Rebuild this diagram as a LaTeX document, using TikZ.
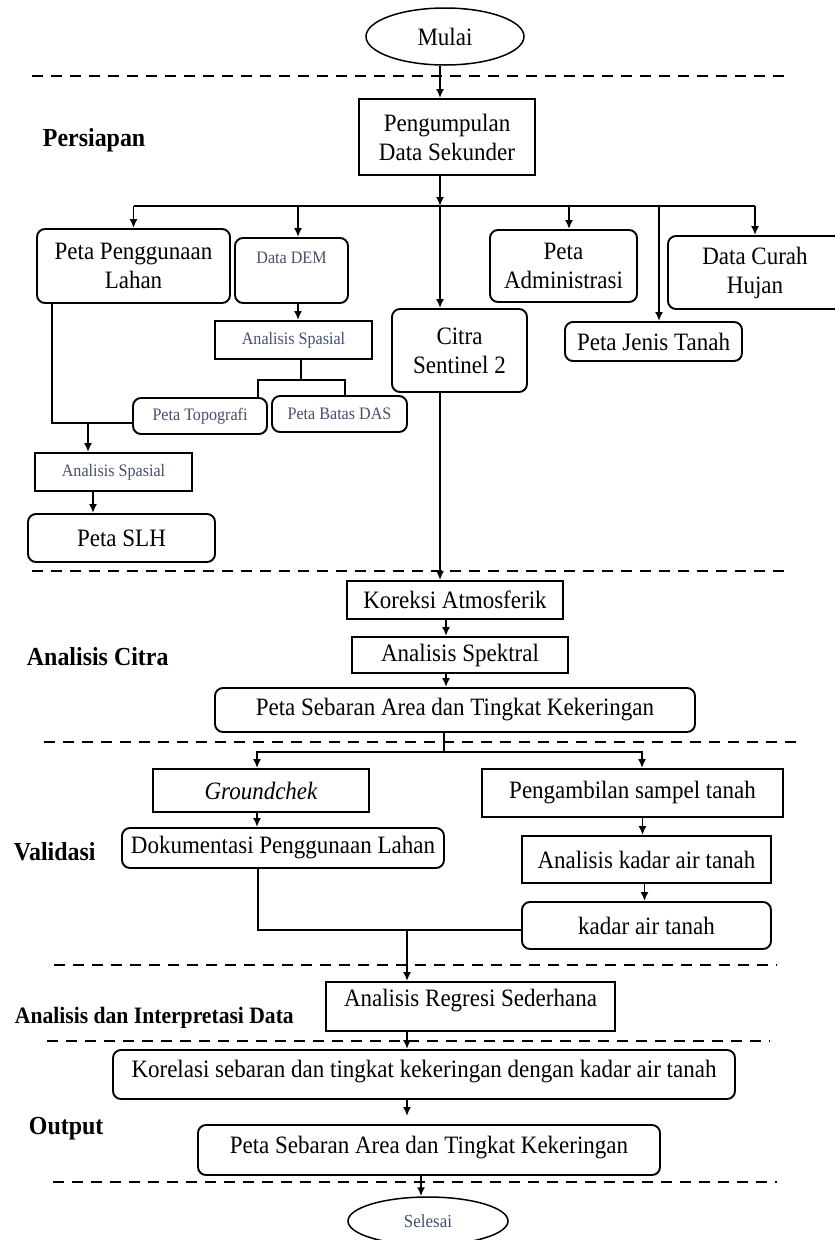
\documentclass[tikz,border=0pt]{standalone}
\usepackage{fontspec}
\setmainfont{Liberation Serif}[FakeStretch=0.92]
\usetikzlibrary{arrows.meta,shapes.geometric}
\definecolor{abu}{RGB}{70,78,110}

\begin{document}
\begin{tikzpicture}[x=1pt, y=-1pt, line width=1.9pt,
	kotak/.style={draw, line width=1.9pt, inner sep=0pt, align=center, font=\fontsize{25}{29}\selectfont},
	kotakr/.style={kotak, rounded corners=8pt},
	kecil/.style={font=\fontsize{17.5}{19}\selectfont, text=abu},
	lonjong/.style={draw, ellipse, line width=1.5pt, inner sep=0pt, font=\fontsize{25}{29}\selectfont},
	judul/.style={inner sep=0pt, anchor=west, font=\fontsize{26}{28}\selectfont\bfseries},
	ukuran/.style 2 args={minimum width=#1pt, minimum height=#2pt},
	panah/.style={-{Latex[length=9pt,width=8pt]}},
	garis/.style={line width=1.9pt, dash pattern=on 11pt off 8pt}]
	\useasboundingbox (0,0) rectangle (835,1240);

	\draw[garis] (32,76) -- (788,76);
	\draw[garis] (32,571) -- (788,571);
	\draw[garis] (44,742) -- (800,742);
	\draw[garis] (54,965) -- (777,965);
	\draw[garis] (47,1041) -- (770,1041);
	\draw[garis] (53,1182) -- (777,1182);

	\node[judul] (persiapan) at (42,140) {Persiapan};
	\node[judul] (anacitra) at (26,657) {Analisis Citra};
	\node[judul] (validasi) at (13,852) {Validasi};
	\node[judul, font=\fontsize{23.5}{26}\selectfont\bfseries] (interpretasi) at (14,1018) {Analisis dan Interpretasi Data};
	\node[judul] (output) at (28,1129) {Output};

	\node[lonjong, ukuran={158}{57}] (mulai) at (445,36.5) {Mulai};
	\node[kotak, ukuran={176}{76}] (peng) at (447,137) {Pengumpulan\\Data Sekunder};
	\node[kotakr, ukuran={193}{74}] (lahan) at (133.5,266) {Peta Penggunaan\\Lahan};
	\node[kotakr, kecil, ukuran={113}{65}, text depth=25pt] (dem) at (291.5,270.5) {Data DEM};
	\node[kotak, kecil, ukuran={157}{38}] (spasA) at (293.5,340) {Analisis Spasial};
	\node[kotakr, kecil, ukuran={134}{36}] (topo) at (200,416) {Peta Topografi};
	\node[kotakr, kecil, ukuran={135}{36}] (das) at (339.5,414) {Peta Batas DAS};
	\node[kotak, kecil, ukuran={157}{38}] (spasB) at (113.5,472) {Analisis Spasial};
	\node[kotakr, ukuran={187}{48}] (slh) at (121.5,538) {Peta SLH};
	\node[kotakr, ukuran={147}{72}] (admin) at (563.5,266) {Peta\\Administrasi};
	\node[kotakr, ukuran={174}{73}] (hujan) at (755,272.5) {Data Curah\\Hujan};
	\node[kotakr, ukuran={177}{39}] (jenis) at (653.5,341.5) {Peta Jenis Tanah};
	\node[kotakr, ukuran={135}{83}] (citra) at (459.5,350.5) {Citra\\Sentinel 2};

	\node[kotak, ukuran={216}{38}] (koreksi) at (455,600) {Koreksi Atmosferik};
	\node[kotak, ukuran={216}{36}] (spektral) at (460,655) {Analisis Spektral};
	\node[kotakr, ukuran={480}{44}] (sebA) at (455,710) {Peta Sebaran Area dan Tingkat Kekeringan};

	\node[kotak, ukuran={216}{43}] (ground) at (261,790.5) {\itshape Groundchek};
	\node[kotak, ukuran={301}{48}] (sampel) at (632.5,793) {Pengambilan sampel tanah};
	\node[kotakr, ukuran={322}{40}] (doku) at (283,848) {Dokumentasi Penggunaan Lahan};
	\node[kotak, ukuran={249}{47}] (akadar) at (646.5,859.5) {Analisis kadar air tanah};
	\node[kotakr, ukuran={249}{47}] (kadar) at (646.5,925.5) {kadar air tanah};

	\node[kotak, ukuran={289}{49}, text depth=17pt] (regresi) at (470.5,1006.5) {Analisis Regresi Sederhana};
	\node[kotakr, ukuran={622}{49}, text depth=11pt] (korelasi) at (424,1074.5) {Korelasi sebaran dan tingkat kekeringan dengan kadar air tanah};
	\node[kotakr, ukuran={462}{50}, text depth=11pt] (sebB) at (429,1150) {Peta Sebaran Area dan Tingkat Kekeringan};
	\node[lonjong, kecil, font=\fontsize{18.5}{21}\selectfont, ukuran={160}{48}] (selesai) at (428,1221) {Selesai};

	\coordinate (bus) at (0,206);
	\coordinate (pengout) at ([xshift=-7]peng.south);
	\coordinate (demin) at ([xshift=6.5]dem.north);
	\coordinate (adminin) at ([xshift=5.5]admin.north);
	\coordinate (jenisin) at ([xshift=5.5]jenis.north);
	\draw[panah] ([xshift=-5]mulai.south) -- ([xshift=-7]peng.north);
	\draw (lahan.north |- bus) -- (hujan.north |- bus);
	\draw[panah] (pengout) -- (pengout |- bus);
	\draw[panah] (pengout |- bus) -- (pengout |- citra.north);
	\draw[panah] (lahan.north |- bus) -- (lahan.north);
	\draw[panah] (demin |- bus) -- (demin);
	\draw[panah] (adminin |- bus) -- (adminin);
	\draw[panah] (hujan.north |- bus) -- (hujan.north);
	\draw[panah] (jenisin |- bus) -- (jenisin);

	\coordinate (cabang) at ([xshift=7.5,yshift=-20]spasA.south);
	\coordinate (lahanout) at ([xshift=-81.5]lahan.south);
	\coordinate (topoin) at ([yshift=-7]topo.west);
	\coordinate (spasBin) at ([xshift=-25.5]spasB.north);
	\coordinate (spasBout) at ([xshift=-20.5]spasB.south);
	\draw[panah] (demin |- dem.south) -- (demin |- spasA.north);
	\draw ([xshift=7.5]spasA.south) -- (cabang);
	\draw ([xshift=58]topo.north) |- (cabang) -| ([xshift=5.5]das.north);
	\draw (lahanout) |- (topoin);
	\draw[panah] (spasBin |- topoin) -- (spasBin);
	\draw[panah] (spasBout) -- (spasBout |- slh.north);

	\coordinate (citraout) at ([xshift=-19.5]citra.south);
	\coordinate (koreksiout) at ([xshift=-9]koreksi.south);
	\coordinate (pisah) at ([xshift=-11,yshift=-19]sebA.south);
	\coordinate (groundout) at ([xshift=-4]ground.south);
	\coordinate (sampelout) at ([xshift=10]sampel.south);
	\coordinate (akadarout) at ([xshift=-2]akadar.south);
	\draw[panah] (citraout) -- (citraout |- koreksi.north);
	\draw[panah] (koreksiout) -- (koreksiout |- spektral.north);
	\draw[panah] (koreksiout |- spektral.south) -- (koreksiout |- sebA.north);
	\draw ([xshift=-11]sebA.south) -- (pisah);
	\draw[panah] (pisah) -| ([xshift=-4]ground.north);
	\draw[panah] (pisah) -| ([xshift=9.5]sampel.north);
	\draw[panah] (groundout) -- (groundout |- doku.north);
	\draw[panah] (sampelout) -- (sampelout |- akadar.north);
	\draw[panah] (akadarout) -- (akadarout |- kadar.north);

	\coordinate (dokuout) at ([xshift=-25]doku.south);
	\coordinate (kadarin) at ([yshift=-4.5]kadar.west);
	\coordinate (regresiin) at ([xshift=-63.5]regresi.north);
	\coordinate (regresiout) at ([xshift=-63.5]regresi.south);
	\coordinate (sebBout) at ([xshift=-8]sebB.south);
	\draw (dokuout) |- (kadarin);
	\draw[panah] (regresiin |- kadarin) -- (regresiin);
	\draw[panah] (regresiout) -- (regresiout |- korelasi.north);
	\draw[panah, shorten >=8pt] (regresiout |- korelasi.south) -- (regresiout |- sebB.north);
	\draw[panah] (sebBout) -- (sebBout |- selesai.north);
\end{tikzpicture}
\end{document}
